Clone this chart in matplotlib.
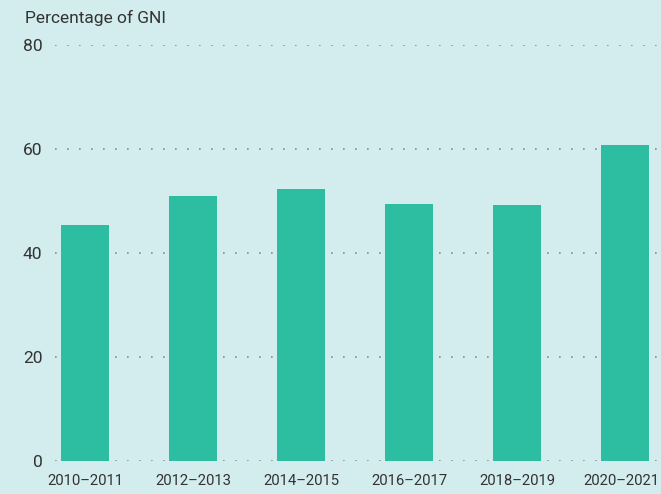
import matplotlib

matplotlib.use("Agg")
import matplotlib.pyplot as plt
import matplotlib.transforms as mtransforms
import numpy as np

periods = ["2010\u20132011", "2012\u20132013", "2014\u20132015",
           "2016\u20132017", "2018\u20132019", "2020\u20132021"]
values = [45.4, 51.0, 52.3, 49.4, 49.2, 60.8]
yticks = [0, 20, 40, 60, 80]

BG = "#D3ECEE"
BAR = "#2DBDA0"
TEXT = "#333333"

plt.rcParams.update({"font.family": ["Roboto", "DejaVu Sans"], "font.size": 12})

fig = plt.figure(figsize=(6.61, 4.94), dpi=100, facecolor=BG)
ax = fig.add_axes([55 / 661, 1 - 461 / 494, 1 - 55 / 661, (461 - 45) / 494])
ax.set_facecolor(BG)

x = np.arange(len(periods))
ax.bar(x, values, width=0.444, color=BAR, zorder=2)

ax.set_xlim(-0.278, 5.333)
ax.set_ylim(0, 80)
ax.set_yticks(yticks)
ax.set_xticks(x)
ax.set_xticklabels(periods)
ax.tick_params(axis="both", length=0, colors=TEXT)
ax.tick_params(axis="y", pad=9, labelsize=12.5)
ax.tick_params(axis="x", pad=9, labelsize=10.7)
for s in ax.spines.values():
    s.set_visible(False)
ax.grid(axis="y", color="#8a8a8a", linestyle=(0, (1, 6.2)), linewidth=1.2, zorder=0)
ax.grid(axis="x", visible=False)

# last label sits right at the figure edge; nudge it in a few pixels
last = ax.get_xticklabels()[-1]
last.set_transform(last.get_transform() + mtransforms.ScaledTranslation(-4 / 100, 0, fig.dpi_scale_trans))

fig.text(25 / 661, 1 - 18 / 494, "Percentage of GNI", ha="left", va="center",
         fontsize=12.5, color=TEXT)

fig.savefig("out.png", dpi=100, facecolor=BG)
